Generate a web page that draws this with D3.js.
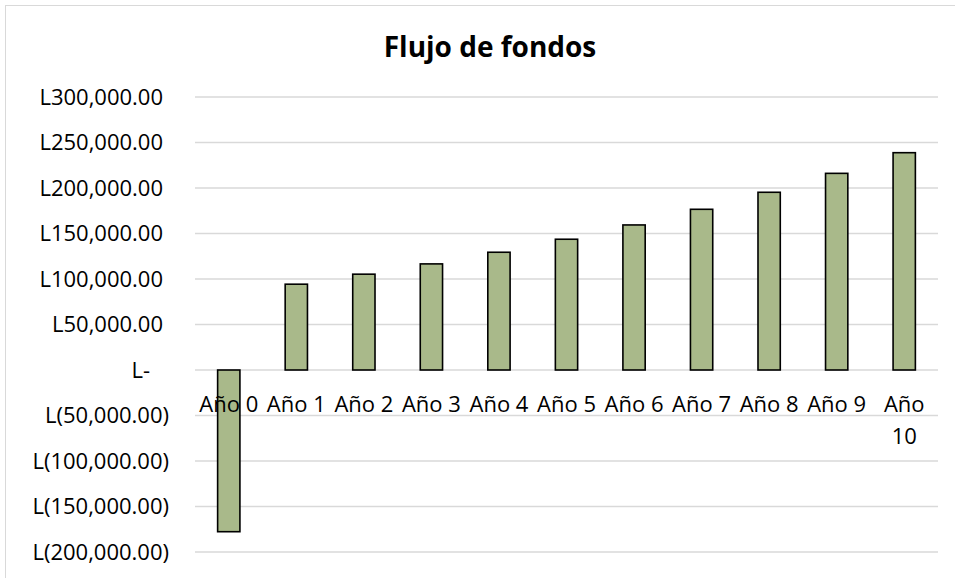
<!DOCTYPE html>
<html>
<head>
<meta charset="utf-8">
<script src="https://cdn.jsdelivr.net/npm/d3@7"></script>
<style>
  html, body { margin: 0; padding: 0; background: #fff; }
  svg { display: block; }
</style>
</head>
<body>
<svg id="chart" width="955" height="578"></svg>
<script>
const categories = ["Año 0","Año 1","Año 2","Año 3","Año 4","Año 5","Año 6","Año 7","Año 8","Año 9","Año 10"];
const values = [-177700, 94300, 105300, 116600, 129400, 143700, 159400, 176600, 195300, 216100, 238800];
const yTicks = [-200000,-150000,-100000,-50000,0,50000,100000,150000,200000,250000,300000];
const title = "Flujo de fondos";

const W = 955, H = 578;
const margin = {left: 195, right: 17, top: 97, bottom: 26};
const svg = d3.select("#chart");
const font = "'Open Sans', 'Noto Sans', sans-serif";

svg.append("rect").attr("x", 5.5).attr("y", 5.5).attr("width", W + 10).attr("height", H + 10)
  .attr("fill", "#fff").attr("stroke", "#d9d9d9").attr("stroke-width", 1);

const x = d3.scaleBand().domain(categories).range([margin.left, W - margin.right]).paddingInner(0.67).paddingOuter(0.335);
const y = d3.scaleLinear().domain([-200000, 300000]).range([H - margin.bottom, margin.top]);

// gridlines
svg.append("g").selectAll("line").data(yTicks).join("line")
  .attr("x1", margin.left).attr("x2", W - margin.right)
  .attr("y1", d => y(d)).attr("y2", d => y(d))
  .attr("stroke", "#d9d9d9").attr("stroke-width", 1.5);

// y labels
const fmt = d3.format(",.2f");
function yLabel(d) {
  if (d === 0) return "L-";
  if (d < 0) return "L(" + fmt(-d) + ")";
  return "L" + fmt(d);
}
const yAxis = d3.axisLeft(y).tickValues(yTicks).tickFormat(yLabel).tickSize(0).tickPadding(0);
const ga = svg.append("g").attr("transform", `translate(169,0)`).call(yAxis);
ga.select(".domain").remove();
ga.selectAll("text")
  .attr("font-family", font).attr("font-size", 22).attr("fill", "#000")
  .attr("dx", d => d === 0 ? -19 : (d > 0 ? -6 : 0));

// bars
svg.append("g").selectAll("rect").data(values).join("rect")
  .attr("x", (d, i) => x(categories[i]))
  .attr("width", x.bandwidth())
  .attr("y", d => y(Math.max(0, d)))
  .attr("height", d => Math.abs(y(d) - y(0)))
  .attr("fill", "#a9b98a").attr("stroke", "#000").attr("stroke-width", 1.6);

// x labels
const xl = svg.append("g");
categories.forEach(c => {
  const cx = x(c) + x.bandwidth() / 2;
  const t = xl.append("text").attr("x", cx).attr("y", 412)
    .attr("text-anchor", "middle").attr("font-family", font).attr("font-size", 22).attr("fill", "#000");
  const parts = c.split(" ");
  if (parts[1].length > 1) {
    t.append("tspan").attr("x", cx).attr("dy", 0).text(parts[0]);
    t.append("tspan").attr("x", cx).attr("dy", 32).text(parts[1]);
  } else {
    t.text(c);
  }
});

// title
svg.append("text").attr("x", 490).attr("y", 57).attr("text-anchor", "middle")
  .attr("font-family", font).attr("font-weight", "bold").attr("font-size", 28).attr("fill", "#000")
  .text(title);
</script>
</body>
</html>
